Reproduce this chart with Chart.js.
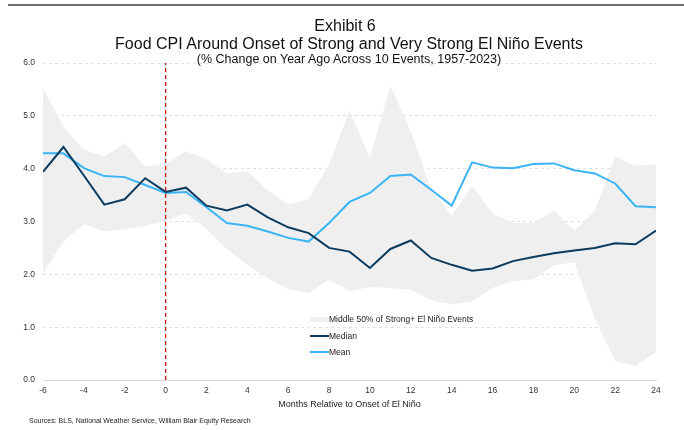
<!DOCTYPE html>
<html>
<head>
<meta charset="utf-8">
<script src="https://cdn.jsdelivr.net/npm/chart.js@4/dist/chart.umd.min.js"></script>
<style>
  html, body { margin: 0; padding: 0; background: #fff; }
  #wrap { position: relative; width: 684px; height: 430px; overflow: hidden; font-family: "Liberation Sans", Arial, sans-serif; }
  #c { position: absolute; left: 0; top: 0; }
  .txt { position: absolute; white-space: nowrap; color: #111; }
  #topline { position: absolute; left: 8px; right: 0; top: 4px; height: 2px; background: #707070; }
  .leg { position: absolute; font-size: 8.5px; color: #222; white-space: nowrap; }
  .sw { position: absolute; }
</style>
</head>
<body>
<div id="wrap">
  <canvas id="c" width="684" height="430"></canvas>
  <div id="topline"></div>
  <div class="txt" style="left:0;width:690px;text-align:center;top:17px;font-size:16px;">Exhibit 6</div>
  <div class="txt" style="left:0;width:698px;text-align:center;top:35px;font-size:16px;">Food CPI Around Onset of Strong and Very Strong El Niño Events</div>
  <div class="txt" style="left:0;width:698px;text-align:center;top:52px;font-size:12.5px;">(% Change on Year Ago Across 10 Events, 1957-2023)</div>
  <div class="txt" style="left:29px;top:417px;font-size:7px;color:#222;">Sources: BLS, National Weather Service, William Blair Equity Research</div>
  <div class="sw" style="left:310px;top:317px;width:19px;height:5px;background:#efefef;"></div>
  <div class="leg" style="left:329px;top:314px;">Middle 50% of Strong+ El Niño Events</div>
  <div class="sw" style="left:310px;top:335px;width:19px;height:2px;background:#0d3b5e;"></div>
  <div class="leg" style="left:329px;top:331px;">Median</div>
  <div class="sw" style="left:310px;top:351px;width:19px;height:2px;background:#3ab4f5;"></div>
  <div class="leg" style="left:329px;top:347px;">Mean</div>
</div>
<script>
const months = [-6,-5,-4,-3,-2,-1,0,1,2,3,4,5,6,7,8,9,10,11,12,13,14,15,16,17,18,19,20,21,22,23,24];
const median = [3.94,4.41,3.87,3.32,3.42,3.82,3.56,3.64,3.30,3.21,3.32,3.08,2.89,2.78,2.50,2.43,2.12,2.48,2.64,2.31,2.18,2.07,2.11,2.25,2.33,2.40,2.45,2.50,2.59,2.57,2.83];
const mean = [4.29,4.29,4.01,3.86,3.84,3.69,3.54,3.56,3.27,2.97,2.92,2.81,2.69,2.62,2.97,3.37,3.54,3.86,3.89,3.60,3.30,4.12,4.02,4.01,4.09,4.10,3.97,3.91,3.72,3.29,3.27];
const bandUpper = [5.52,4.80,4.36,4.23,4.48,4.04,4.08,4.33,4.18,3.91,3.95,3.58,3.33,3.42,4.08,5.10,4.21,5.57,4.71,3.61,3.11,3.67,3.15,2.97,2.97,3.21,2.83,3.20,4.23,4.05,4.09];
const bandLower = [2.01,2.62,2.95,2.81,2.86,2.92,3.01,3.15,2.86,2.48,2.17,1.92,1.72,1.64,1.90,1.68,1.76,1.74,1.71,1.51,1.43,1.49,1.74,1.87,1.90,2.17,2.23,1.17,0.36,0.26,0.53];
const onsetMonth = 0;
const yRange = [0, 6];
const xRange = [-6, 24];

const pts = arr => arr.map((v, i) => ({ x: months[i], y: v }));

new Chart(document.getElementById('c'), {
  type: 'line',
  data: {
    datasets: [
      { label: 'lower', data: pts(bandLower), borderWidth: 0, pointRadius: 0, fill: false, backgroundColor: '#efefef', order: 5 },
      { label: 'Middle 50% of Strong+ El Niño Events', data: pts(bandUpper), borderWidth: 0, pointRadius: 0, fill: '-1', backgroundColor: '#efefef', order: 4 },
      { label: 'onset', data: [{ x: onsetMonth, y: yRange[0] }, { x: onsetMonth, y: yRange[1] }], borderColor: '#cc1111', borderWidth: 1.3, borderDash: [4, 3], pointRadius: 0, fill: false, order: 3 },
      { label: 'Mean', data: pts(mean), borderColor: '#3ab4f5', borderWidth: 2, pointRadius: 0, fill: false, tension: 0, order: 2 },
      { label: 'Median', data: pts(median), borderColor: '#0d3b5e', borderWidth: 2, pointRadius: 0, fill: false, tension: 0, order: 1 }
    ]
  },
  options: {
    responsive: false,
    animation: false,
    layout: { padding: { top: 63, left: 0, right: 28, bottom: 20 } },
    plugins: { legend: { display: false }, tooltip: { enabled: false } },
    scales: {
      x: {
        type: 'linear', min: xRange[0], max: xRange[1],
        ticks: { stepSize: 2, color: '#333', font: { family: 'Liberation Sans', size: 8.5 }, padding: 6 },
        grid: { display: false, drawTicks: false },
        border: { display: true, color: '#d9d9d9', width: 1 },
        title: { display: true, text: 'Months Relative to Onset of El Niño', color: '#222', font: { family: 'Liberation Sans', size: 9 }, padding: { top: 2, bottom: 0 } },
        afterFit: s => { s.height = 30; }
      },
      y: {
        min: yRange[0], max: yRange[1],
        ticks: { stepSize: 1, color: '#333', font: { family: 'Liberation Sans', size: 8.5 }, padding: 8, callback: v => v.toFixed(1) },
        grid: { color: '#e0e0e0', lineWidth: 1, drawTicks: false },
        border: { display: false, dash: [3, 3] },
        afterFit: s => { s.width = 43; }
      }
    }
  }
});
</script>
</body>
</html>
